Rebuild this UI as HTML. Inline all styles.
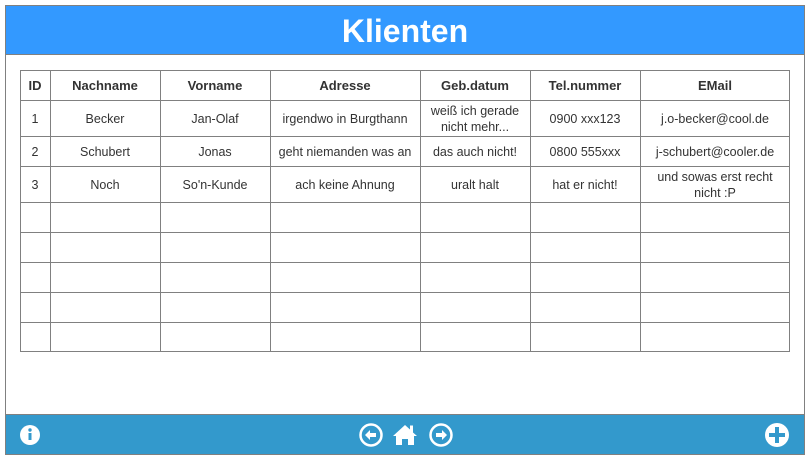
<!DOCTYPE html>
<html><head><meta charset="utf-8"><style>
body{margin:0;width:805px;height:455px;background:#fff;overflow:hidden}
svg{display:block;font-family:"Liberation Sans",sans-serif}
</style></head><body>
<svg width="805" height="455" viewBox="0 0 805 455">
<rect x="5.5" y="5.5" width="799" height="449" fill="#fff" stroke="#808080"/>
<rect x="6" y="6" width="798" height="48" fill="#3399ff"/>
<line x1="5" y1="54.5" x2="805" y2="54.5" stroke="#808080"/>
<text x="405" y="42" text-anchor="middle" font-size="32" font-weight="bold" fill="#fff">Klienten</text>
<rect x="6" y="415" width="798" height="39" fill="#3399cc"/>
<line x1="5" y1="414.5" x2="805" y2="414.5" stroke="#808080"/>
<g stroke="#808080" fill="none">
<rect x="20.5" y="70.5" width="769" height="281"/>
<path d="M50.5 70v282M160.5 70v282M270.5 70v282M420.5 70v282M530.5 70v282M640.5 70v282"/>
<path d="M20 100.5h770M20 136.5h770M20 166.5h770M20 202.5h770M20 232.5h770M20 262.5h770M20 292.5h770M20 322.5h770"/>
</g>
<g font-size="13" font-weight="bold" fill="#333" text-anchor="middle">
<text x="35" y="90">ID</text><text x="105" y="90">Nachname</text><text x="215" y="90">Vorname</text><text x="345" y="90">Adresse</text><text x="475" y="90">Geb.datum</text><text x="585" y="90">Tel.nummer</text><text x="715" y="90">EMail</text>
</g>
<g font-size="12.5" fill="#333" text-anchor="middle">
<text x="35" y="123">1</text><text x="105" y="123">Becker</text><text x="215" y="123">Jan-Olaf</text><text x="345" y="123">irgendwo in Burgthann</text><text x="475" y="115">weiß ich gerade</text><text x="475" y="131">nicht mehr...</text><text x="585" y="123">0900 xxx123</text><text x="715" y="123">j.o-becker@cool.de</text>
<text x="35" y="156">2</text><text x="105" y="156">Schubert</text><text x="215" y="156">Jonas</text><text x="345" y="156">geht niemanden was an</text><text x="475" y="156">das auch nicht!</text><text x="585" y="156">0800 555xxx</text><text x="715" y="156">j-schubert@cooler.de</text>
<text x="35" y="189">3</text><text x="105" y="189">Noch</text><text x="215" y="189">So'n-Kunde</text><text x="345" y="189">ach keine Ahnung</text><text x="475" y="189">uralt halt</text><text x="585" y="189">hat er nicht!</text><text x="715" y="181">und sowas erst recht</text><text x="715" y="197">nicht :P</text>
</g>
<g fill="#fff">
<circle cx="30" cy="435" r="10"/>
<rect x="28.5" y="433" width="3" height="7" fill="#3399cc"/><circle cx="30" cy="430" r="1.7" fill="#3399cc"/>
<circle cx="371" cy="435" r="10.5" fill="none" stroke="#fff" stroke-width="2.5"/>
<path d="M365 435l5-5v3h6v4h-6v3z"/>
<circle cx="441" cy="435" r="10.5" fill="none" stroke="#fff" stroke-width="2.5"/>
<path d="M447 435l-5-5v3h-6v4h6v3z"/>
<path d="M393 436l12-11 5 4.5v-4h3v7l4 3.5h-3v9h-6v-6h-6v6h-6v-9z"/>
<circle cx="777" cy="435" r="12"/>
<path d="M775 427h4v6h6v4h-6v6h-4v-6h-6v-4h6z" fill="#3399cc"/>
</g>
</svg>
</body></html>
